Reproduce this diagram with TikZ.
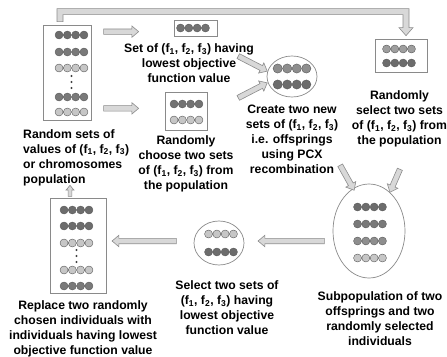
\documentclass[tikz,border=0pt]{standalone}
\usepackage{fontspec}
\setmainfont{Liberation Sans}
\usetikzlibrary{calc,shapes.geometric,shapes.arrows}
\definecolor{dkdot}{HTML}{6C6C6C}
\definecolor{mddot}{HTML}{8E8E8E}
\definecolor{ltdot}{HTML}{C6C6C6}
\definecolor{dotedge}{HTML}{5A5A5A}
\definecolor{boxedge}{HTML}{8A8A8A}
\definecolor{arrfill}{HTML}{D8D8D8}
\definecolor{arredge}{HTML}{8C8C8C}
\newcommand{\ff}[1]{f\textsubscript{#1}}
% row of four balls: [scale]{x}{y}{colour}
\newcommand{\dotrow}[4][1]{%
  \foreach \k in {0,1,2,3}{\filldraw[draw=dotedge, line width=0.4pt, fill=#4]
    ({#2+(\k-1.5)*8.3*#1},{#3}) circle[radius={4pt*#1}];}}
\newcommand{\dotcol}[2]{%
  \foreach \k in {0,1,2}{\fill[black!75] ({#1},{#2+\k*6}) circle[radius=1.1pt];}}
\newcommand{\barrow}[3][fatarrow]{%
  \path let \p1=#2, \p2=#3, \n1={atan2(\y2-\y1,\x2-\x1)}, \n2={veclen(\x2-\x1,\y2-\y1)} in
    node[#1, minimum height=\n2, rotate=\n1, anchor=tail] at (\p1) {};}
\tikzset{
  box/.style={draw=boxedge, line width=0.7pt, fill=white, inner sep=0pt},
  oval/.style={ellipse, draw=boxedge, line width=0.7pt, fill=white, inner sep=0pt},
  lbl/.style={font=\bfseries\fontsize{12.2}{15}\selectfont, align=center, inner sep=0pt},
  fatarrow/.style={single arrow, draw=arredge, fill=arrfill, line width=0.6pt,
    inner xsep=0pt, inner ysep=2.4pt, single arrow head extend=3pt,
    single arrow head indent=0pt, single arrow tip angle=80},
  smallarrow/.style={fatarrow, inner ysep=1.6pt, single arrow head extend=2pt},
  pipe/.style={draw=arredge, fill=arrfill, line width=0.6pt, line join=miter}
}
\begin{document}
\begin{tikzpicture}[x=1pt,y=-1pt]
\useasboundingbox[fill=white] (0,0) rectangle (447,356);

% ---- nodes ----
\node[box, minimum width=48pt, minimum height=95pt] (pop) at (67,72.5) {};
\node[box, minimum width=43pt, minimum height=16pt] (lowset) at (195.5,28) {};
\node[box, minimum width=42pt, minimum height=38pt] (choose) at (186,111) {};
\node[oval, minimum width=50pt, minimum height=41pt] (circ) at (292,76.5) {};
\node[box, minimum width=52pt, minimum height=33pt] (rbox) at (401,55.5) {};
\node[oval, minimum width=72pt, minimum height=94pt] (subpop) at (369,231) {};
\node[oval, minimum width=50pt, minimum height=44pt] (select) at (219,243) {};
\node[box, minimum width=56pt, minimum height=95pt] (newpop) at (78,245.5) {};

% ---- balls ----
\dotrow{71.5}{35}{dkdot}
\dotrow{71.5}{52}{mddot!85!black}
\dotrow{71.5}{68}{ltdot}
\dotcol{71.5}{76}
\dotrow{71.5}{97}{mddot!85!black}
\dotrow{71.5}{112}{ltdot}

\dotrow{193}{28}{mddot!80!black}

\dotrow{186.5}{104}{mddot!80!black}
\dotrow{186.5}{120}{ltdot}

\dotrow[1.15]{292}{68.5}{mddot}
\dotrow[1.15]{292}{84.5}{dkdot}

\dotrow{399}{49}{ltdot!80!black}
\dotrow{399}{63}{dkdot}

\dotrow{370}{207}{dkdot}
\dotrow{370}{224}{mddot!85!black}
\dotrow{370}{241}{mddot}
\dotrow{370}{258}{ltdot}

\dotrow{221}{234}{ltdot}
\dotrow{221}{252}{dkdot}

\dotrow{76.5}{210}{dkdot}
\dotrow{76.5}{226}{dkdot}
\dotrow{76.5}{243}{ltdot}
\dotcol{76.5}{250}
\dotrow{76.5}{270}{ltdot}
\dotrow{76.5}{286}{mddot!85!black}

% ---- labels ----
\node[lbl] (lowtext) at (189,63) {Set of (\ff1, \ff2, \ff3) having\\lowest objective\\function value};
\node[lbl, align=left, anchor=west] (poptext) at (23,157.5) {Random sets of\\values of (\ff1, \ff2, \ff3)\\or chromosomes\\population};
\node[lbl] (choosetext) at (186,164) {Randomly\\choose two sets\\of (\ff1, \ff2, \ff3) from\\the population};
\node[lbl] (createtext) at (292,139) {Create two new\\sets of (\ff1, \ff2, \ff3)\\i.e. offsprings\\using PCX\\recombination};
\node[lbl] (rtext) at (399.5,119) {Randomly\\select two sets\\of (\ff1, \ff2, \ff3) from\\the population};
\node[lbl] (subtext) at (380,318.5) {Subpopulation of two\\offsprings and two\\randomly selected\\individuals};
\node[lbl] (seltext) at (227,307.5) {Select two sets of\\(\ff1, \ff2, \ff3) having\\lowest objective\\function value};
\node[lbl] (reptext) at (83,328.5) {Replace two randomly\\chosen individuals with\\individuals having lowest\\objective function value};

% ---- connectors ----
\draw[pipe] let \p1=([xshift=-7pt]pop.north), \p2=([xshift=5pt,yshift=3pt]rbox.north) in
  ({\x1-3pt},{\y1+3pt}) -- ({\x1-3pt},{\y1+16pt}) -- ({\x2+3pt},{\y1+16pt}) --
  ({\x2+3pt},{\y2+8pt}) -- ({\x2+7pt},{\y2+8pt}) -- (\x2,\y2) -- ({\x2-7pt},{\y2+8pt}) --
  ({\x2-3pt},{\y2+8pt}) -- ({\x2-3pt},{\y1+10pt}) -- ({\x1+3pt},{\y1+10pt}) --
  ({\x1+3pt},{\y1+3pt}) -- cycle;

\barrow{($(pop.north east)+(12,7)$)}{($(pop.north east)+(47,7)$)}
\barrow{($(pop.south east)+(12,-12)$)}{($(pop.south east)+(47,-12)$)}
\barrow{($(circ.center)+(-54,-20.5)$)}{($(circ.center)+(-25,-5.5)$)}
\barrow{($(circ.center)+(-54,21.5)$)}{($(circ.center)+(-25,6.5)$)}
\barrow{($(subpop.center)+(-29,-66)$)}{($(subpop.center)+(-15,-41)$)}
\barrow{($(subpop.center)+(31,-62)$)}{($(subpop.center)+(21,-39)$)}
\barrow{($(subpop.west)+(-8,10)$)}{($(select.east)+(14,-2)$)}
\barrow{($(select.west)+(-17,-2)$)}{($(newpop.east)+(6,-4.5)$)}
\barrow[smallarrow]{($(newpop.north)+(-8,-1)$)}{($(newpop.north)+(-8,-12)$)}
\end{tikzpicture}
\end{document}
